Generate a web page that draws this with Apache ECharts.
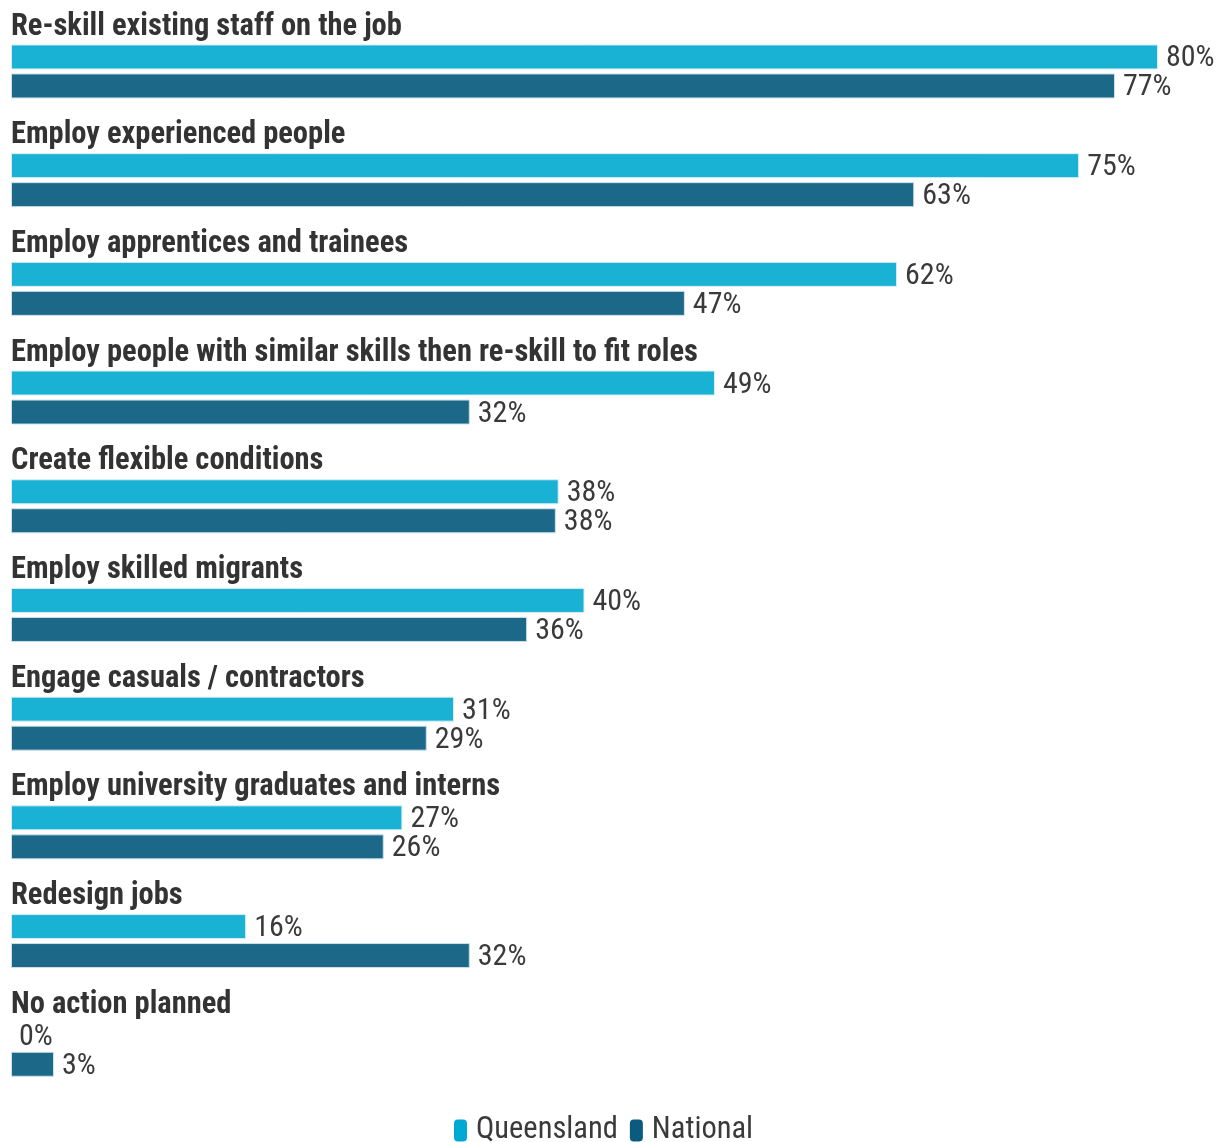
<!DOCTYPE html>
<html>
<head>
<meta charset="utf-8">
<script src="https://cdn.jsdelivr.net/npm/echarts@6/dist/echarts.min.js"></script>
<style>
  html, body { margin: 0; padding: 0; background: #fff; }
  #chart { width: 1227px; height: 1142px; }
</style>
</head>
<body>
<div id="chart"></div>
<script>
  const categories = [
    'Re-skill existing staff on the job',
    'Employ experienced people',
    'Employ apprentices and trainees',
    'Employ people with similar skills then re-skill to fit roles',
    'Create flexible conditions',
    'Employ skilled migrants',
    'Engage casuals / contractors',
    'Employ university graduates and interns',
    'Redesign jobs',
    'No action planned'
  ]
  const queensland = [80, 74.5, 61.8, 49.1, 38.2, 40, 30.9, 27.3, 16.4, 0]
  const national = [77, 63, 47, 32, 38, 36, 29, 26, 32, 3]
  // dummy series just to hold the category titles above each pair of bars
  const titles = categories.map(() => 0)

  const font = "'Roboto Condensed', 'Liberation Sans Narrow', Roboto, sans-serif"

  function barData(arr) {
    // no border on empty bars, otherwise a thin line shows up
    return arr.map(v => v === 0 ? { value: v, itemStyle: { borderWidth: 0 } } : v)
  }

  let myChart = echarts.init(document.getElementById('chart'))
  let option = {
    animation: false,
    grid: {
      left: 11,
      right: 1227 - 1158,
      top: 2.6,
      height: 1087
    },
    xAxis: {
      type: 'value',
      min: 0,
      max: 80,
      show: false
    },
    yAxis: {
      type: 'category',
      inverse: true,
      data: categories,
      show: false
    },
    legend: {
      data: [
        { name: 'Queensland', itemStyle: { color: '#00a9d1', borderWidth: 0 } },
        { name: 'National', itemStyle: { color: '#0b5a80', borderWidth: 0 } }
      ],
      top: 1110,
      left: 449,
      itemWidth: 13,
      itemHeight: 22,
      itemGap: 12,
      icon: 'path://M4,0 L9,0 Q13,0 13,4 L13,18 Q13,22 9,22 L4,22 Q0,22 0,18 L0,4 Q0,0 4,0 Z',
      textStyle: { fontFamily: font, fontSize: 30.5, color: '#3a3a3a', padding: [0, 0, 0, 4] }
    },
    series: [
      {
        name: 'title',
        type: 'bar',
        data: titles,
        barWidth: 25,
        barGap: '16%',
        itemStyle: { color: 'rgba(0,0,0,0)' },
        label: {
          show: true,
          position: 'insideLeft',
          distance: 0,
          offset: [0, -1],
          formatter: p => p.name,
          fontFamily: font,
          fontWeight: 'bold',
          fontSize: 30.5,
          color: '#333'
        },
        silent: true
      },
      {
        name: 'Queensland',
        type: 'bar',
        data: barData(queensland),
        barWidth: 25,
        barGap: '16%',
        itemStyle: { color: '#1ab2d4', borderColor: '#d8eef4', borderWidth: 1 },
        label: {
          show: true,
          position: 'right',
          distance: 8,
          offset: [0, 2],
          formatter: p => Math.round(p.value) + '%',
          fontFamily: font,
          fontSize: 30,
          color: '#3a3a3a'
        }
      },
      {
        name: 'National',
        type: 'bar',
        data: barData(national),
        barWidth: 25,
        barGap: '16%',
        itemStyle: { color: '#1b6888', borderColor: '#cfe0e8', borderWidth: 1 },
        label: {
          show: true,
          position: 'right',
          distance: 8,
          offset: [0, 2],
          formatter: p => Math.round(p.value) + '%',
          fontFamily: font,
          fontSize: 30,
          color: '#3a3a3a'
        }
      }
    ]
  }
  myChart.setOption(option)
</script>
</body>
</html>
